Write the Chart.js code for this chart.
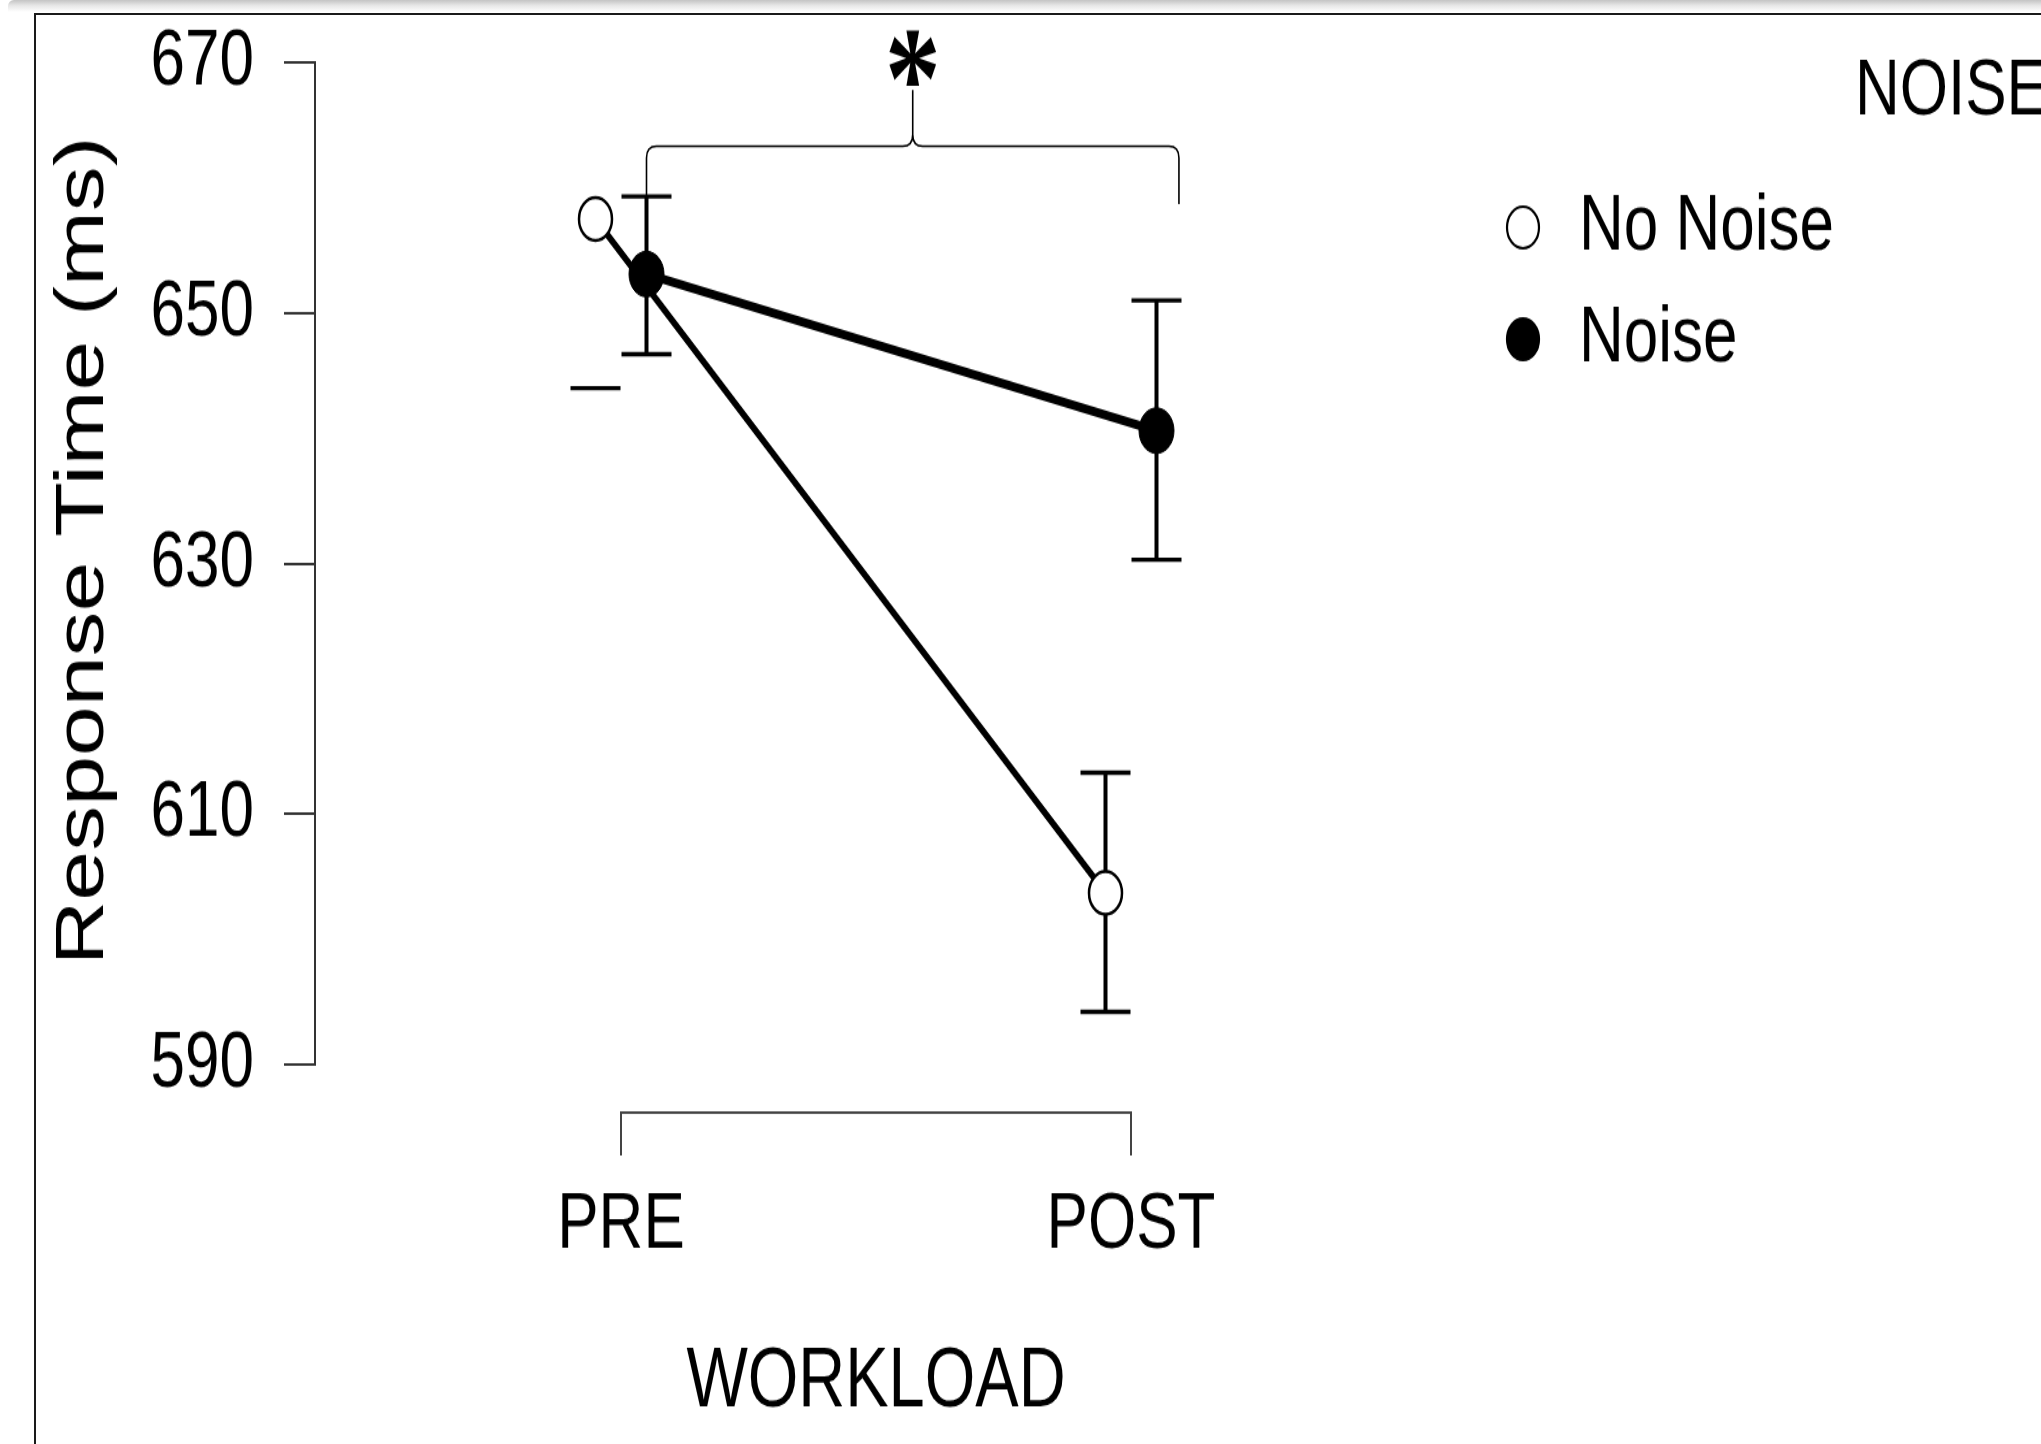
<!DOCTYPE html>
<html>
<head>
<meta charset="utf-8">
<script src="https://cdn.jsdelivr.net/npm/chart.js@4.4.1/dist/chart.umd.min.js"></script>
<style>
  html, body { margin: 0; padding: 0; background: #fff; }
  body { width: 2041px; height: 1444px; overflow: hidden; position: relative; }
  .shade { position: absolute; left: 8px; right: 0; top: 0; height: 12px;
           border-radius: 6px 0 0 0;
           background: linear-gradient(#c4c4c4, #e6e6e6 45%, #fff); }
  .frame { position: absolute; left: 34px; top: 13px; right: -10px; bottom: -10px;
           border-left: 2px solid #1a1a1a; border-top: 2px solid #1a1a1a; }
  #chart { position: absolute; left: 0; top: 0; width: 2041px; height: 1111px;
           transform: scaleY(1.29973); transform-origin: 0 0; }
</style>
</head>
<body>
<div class="shade"></div>
<div class="frame"></div>
<canvas id="chart" width="2041" height="1111"></canvas>
<script>
// data
var categories = ['PRE', 'POST'];
var seriesNames = ['No Noise', 'Noise'];
var noNoiseMeans = [657.5, 603.7];
var noiseMeans = [653.1, 640.6];
var noNoiseLower = [644.0, 594.2];
var noNoiseUpper = [null, 613.3];
var noiseLower = [646.7, 630.3];
var noiseUpper = [659.3, 651.0];
var yTicks = [590, 610, 630, 650, 670];

var FONT = '"Liberation Sans", Arial, Helvetica, sans-serif';
var dodge = 0.05;

function pts(means, shift) {
    return means.map(function (v, i) { return { x: i + shift, y: v }; });
}

// error bars drawn under the markers
var errorBars = {
    id: 'errorBars',
    beforeDatasetsDraw: function (chart) {
        var ctx = chart.ctx, xs = chart.scales.x, ys = chart.scales.y;
        var sets = [
            { lo: noNoiseLower, hi: noNoiseUpper, shift: -dodge },
            { lo: noiseLower, hi: noiseUpper, shift: dodge }
        ];
        ctx.save();
        ctx.strokeStyle = '#000';
        sets.forEach(function (s) {
            s.lo.forEach(function (lo, i) {
                var hi = s.hi[i];
                var px = xs.getPixelForValue(i + s.shift);
                ctx.lineWidth = 4;
                if (lo != null && hi != null) {
                    ctx.beginPath();
                    ctx.moveTo(px, ys.getPixelForValue(lo));
                    ctx.lineTo(px, ys.getPixelForValue(hi));
                    ctx.stroke();
                }
                ctx.lineWidth = 3.4;
                [lo, hi].forEach(function (v) {
                    if (v == null) return;
                    var py = ys.getPixelForValue(v);
                    ctx.beginPath();
                    ctx.moveTo(px - 25, py);
                    ctx.lineTo(px + 25, py);
                    ctx.stroke();
                });
            });
        });
        ctx.restore();
    }
};

// curly bracket + asterisk over the two Noise points, and the x "axis" bracket
var extras = {
    id: 'extras',
    afterDatasetsDraw: function (chart) {
        var ctx = chart.ctx, xs = chart.scales.x, ys = chart.scales.y;
        ctx.save();

        // R style x axis: line between first and last category with ticks down
        var x0 = xs.getPixelForValue(0), x1 = xs.getPixelForValue(categories.length - 1);
        var yb = chart.chartArea.bottom + 37;
        ctx.strokeStyle = '#444';
        ctx.lineWidth = 2;
        ctx.beginPath();
        ctx.moveTo(x0, yb + 33);
        ctx.lineTo(x0, yb);
        ctx.lineTo(x1, yb);
        ctx.lineTo(x1, yb + 33);
        ctx.stroke();

        // brace
        var xl = xs.getPixelForValue(dodge), xr = xs.getPixelForValue(1.094);
        var xm = (xl + xr) / 2;
        var yEnd = ys.getPixelForValue(658.7), yBar = ys.getPixelForValue(663.3), yPeak = ys.getPixelForValue(667.8);
        ctx.strokeStyle = '#000';
        ctx.lineWidth = 1.6;
        ctx.beginPath();
        ctx.moveTo(xl, yEnd);
        ctx.lineTo(xl, yBar + 9);
        ctx.quadraticCurveTo(xl, yBar, xl + 10, yBar);
        ctx.lineTo(xm - 10, yBar);
        ctx.quadraticCurveTo(xm, yBar, xm, yBar - 9);
        ctx.lineTo(xm, yPeak);
        ctx.moveTo(xm, yBar - 9);
        ctx.quadraticCurveTo(xm, yBar, xm + 10, yBar);
        ctx.lineTo(xr - 10, yBar);
        ctx.quadraticCurveTo(xr, yBar, xr, yBar + 9);
        ctx.lineTo(xr, yEnd);
        ctx.stroke();

        ctx.fillStyle = '#000';
        ctx.font = 'bold 112px "Liberation Serif", "Times New Roman", serif';
        ctx.textAlign = 'center';
        ctx.textBaseline = 'alphabetic';
        var m = ctx.measureText('*');
        var cy = ys.getPixelForValue(670.4);
        ctx.fillText('*', xm, cy + (m.actualBoundingBoxAscent - m.actualBoundingBoxDescent) / 2);
        ctx.restore();
    }
};

// legend in the right margin, built from the datasets
var sideLegend = {
    id: 'sideLegend',
    afterDraw: function (chart) {
        var ctx = chart.ctx;
        ctx.save();
        ctx.fillStyle = '#000';
        ctx.font = '62px ' + FONT;
        ctx.textBaseline = 'middle';
        ctx.textAlign = 'left';
        ctx.fillText('NOISE', 1855, 71);
        var rows = [175, 261];
        chart.data.datasets.forEach(function (ds, i) {
            var y = rows[i];
            ctx.beginPath();
            ctx.arc(1523, y, 16, 0, Math.PI * 2);
            ctx.fillStyle = ds.pointBackgroundColor;
            ctx.fill();
            ctx.lineWidth = 2.2;
            ctx.strokeStyle = '#000';
            ctx.stroke();
            ctx.fillStyle = '#000';
            ctx.fillText(ds.label, 1579, y);
        });
        ctx.restore();
    }
};

new Chart(document.getElementById('chart'), {
    type: 'line',
    data: {
        datasets: [{
            label: seriesNames[0],
            data: pts(noNoiseMeans, -dodge),
            borderColor: '#000',
            borderWidth: 5.5,
            pointRadius: 16.5,
            pointBorderWidth: 2.5,
            pointBackgroundColor: '#fff',
            pointBorderColor: '#000',
            tension: 0,
            order: 0
        }, {
            label: seriesNames[1],
            data: pts(noiseMeans, dodge),
            borderColor: '#000',
            borderWidth: 7,
            pointRadius: 17.5,
            pointBorderWidth: 1,
            pointBackgroundColor: '#000',
            pointBorderColor: '#000',
            tension: 0,
            order: 1
        }]
    },
    options: {
        responsive: false,
        animation: false,
        events: [],
        layout: { padding: { left: 40, top: 48, right: 604, bottom: 0 } },
        plugins: {
            legend: { display: false },
            tooltip: { enabled: false }
        },
        scales: {
            x: {
                type: 'linear',
                min: -0.6,
                max: 1.6,
                afterFit: function (s) { s.height = 292; s.paddingLeft = 0; s.paddingRight = 0; },
                afterBuildTicks: function (s) {
                    s.ticks = categories.map(function (c, i) { return { value: i }; });
                },
                grid: { display: false, drawTicks: false },
                border: { display: false },
                ticks: {
                    padding: 87,
                    color: '#000',
                    font: { family: FONT, size: 62 },
                    maxRotation: 0,
                    callback: function (v) { return categories[v]; }
                },
                title: {
                    display: true,
                    text: 'WORKLOAD',
                    color: '#000',
                    font: { family: FONT, size: 65 },
                    padding: { top: 0, bottom: 8 }
                }
            },
            y: {
                min: 590,
                max: 670,
                afterFit: function (s) { s.width = 275; s.paddingTop = 0; s.paddingBottom = 0; },
                afterBuildTicks: function (s) {
                    s.ticks = yTicks.map(function (v) { return { value: v }; });
                },
                grid: {
                    drawOnChartArea: false,
                    drawTicks: true,
                    tickLength: 31,
                    color: '#333',
                    lineWidth: 2
                },
                border: { display: true, color: '#333', width: 2 },
                ticks: {
                    padding: 30,
                    color: '#000',
                    font: { family: FONT, size: 62 }
                },
                title: {
                    display: true,
                    text: ' Response Time (ms)',
                    color: '#000',
                    font: { family: FONT, size: 69 },
                    padding: { top: 3, bottom: 0 }
                }
            }
        }
    },
    plugins: [errorBars, extras, sideLegend]
});
</script>
</body>
</html>
